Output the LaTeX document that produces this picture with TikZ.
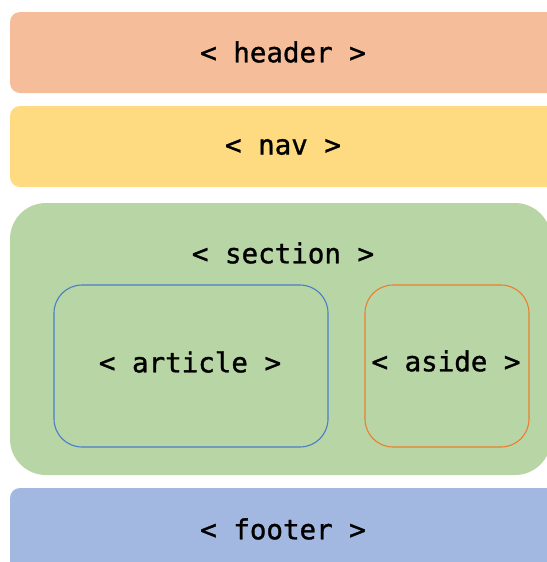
\documentclass[tikz,border=0pt]{standalone}
\usepackage{fontspec}
\setmonofont[FakeBold=1.2, AutoFakeBold=1.2]{DejaVu Sans Mono}
\definecolor{hdr}{HTML}{F6BD9A}
\definecolor{navc}{HTML}{FEDB80}
\definecolor{sec}{HTML}{B8D5A5}
\definecolor{ftr}{HTML}{A2B8E0}
\definecolor{artb}{HTML}{4A7CC8}
\definecolor{asib}{HTML}{ED7D31}
\begin{document}
\begin{tikzpicture}[x=1pt,y=-1pt,
  lbl/.style={font=\ttfamily\bfseries\fontsize{27.5}{31}\selectfont, text=black, inner sep=0pt},
  band/.style={draw=none, rounded corners=10pt},
  inner/.style={fill=none, line width=1.1pt, rounded corners=28pt}]
\useasboundingbox (0,0) rectangle (546,562);
\fill[hdr, band] (10,12) rectangle (560,93);
\fill[navc, band] (10,106) rectangle (560,187);
\fill[sec, rounded corners=36pt] (10,203) rectangle (551,475);
\fill[ftr, band] (10,488) rectangle (560,600);
\draw[artb, inner] (54,285) rectangle (328,447);
\draw[asib, inner] (365,285) rectangle (529,447);
\node[lbl] (header) at (283,52) {< header >};
\node[lbl] (nav) at (283,147) {< nav >};
\node[lbl] (section) at (283,253) {< section >};
\node[lbl] (article) at (190,362) {< article >};
\node[lbl] (aside) at (446,361) {< aside >};
\node[lbl] (footer) at (283,529) {< footer >};
\end{tikzpicture}
\end{document}
